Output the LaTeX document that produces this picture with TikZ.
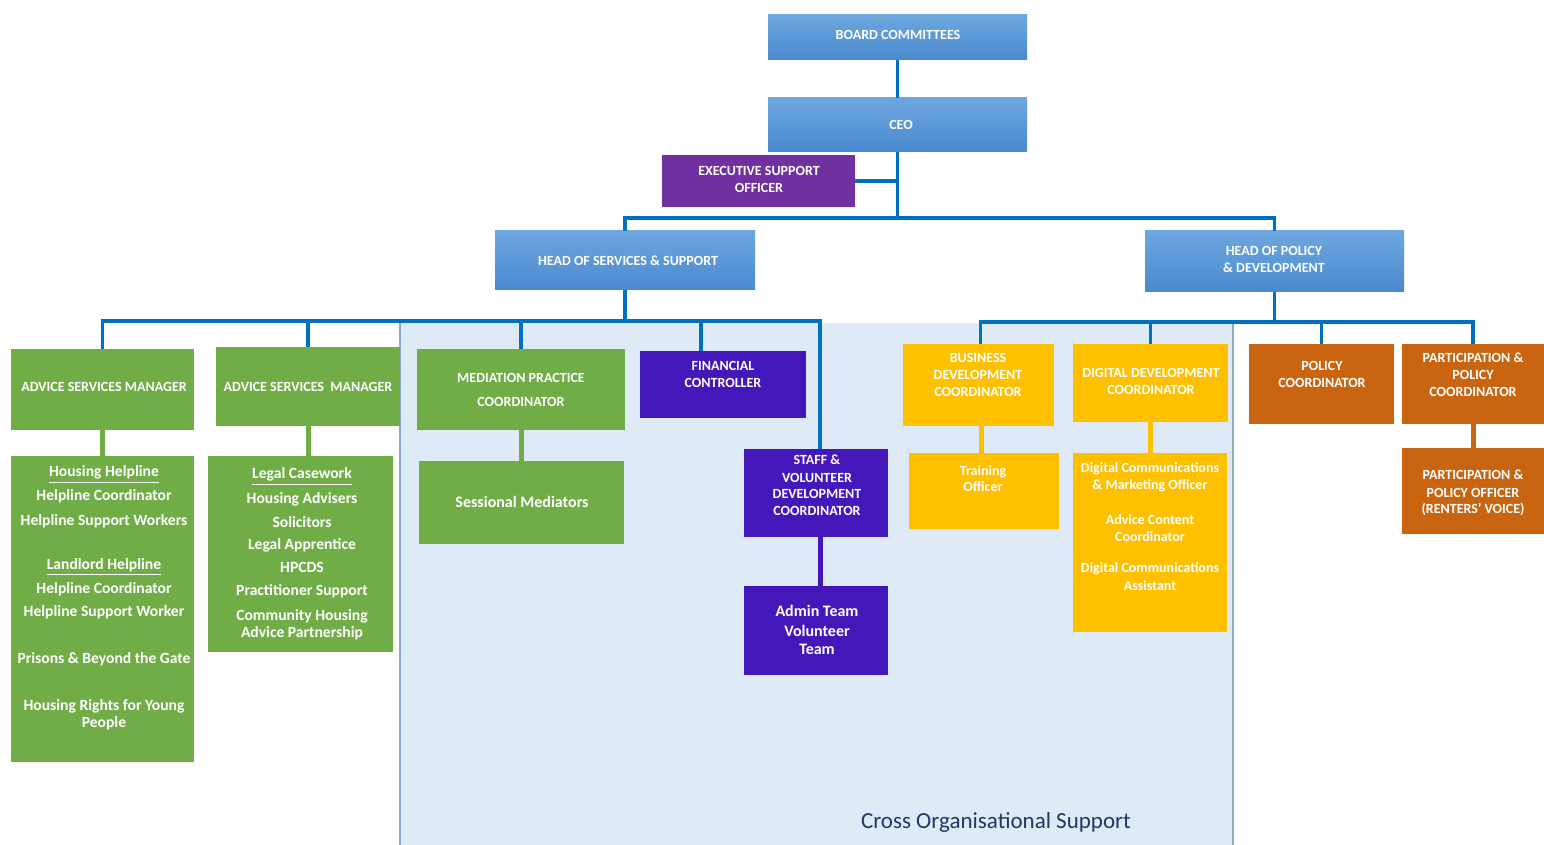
\documentclass[tikz,border=0pt]{standalone}
\usepackage{fontspec}
\setmainfont{Carlito}
\usetikzlibrary{calc}
\definecolor{lineblue}{HTML}{0070C0}
\definecolor{bluetop}{HTML}{6DA7DF}
\definecolor{bluebot}{HTML}{4A89CF}
\definecolor{orggreen}{HTML}{70AD47}
\definecolor{execpurple}{HTML}{7030A0}
\definecolor{indigo}{HTML}{4317BA}
\definecolor{orgyellow}{HTML}{FFC000}
\definecolor{orgorange}{HTML}{C96510}
\definecolor{regionfill}{HTML}{DEEAF6}
\definecolor{regionedge}{HTML}{8FAAC8}
\definecolor{navytext}{HTML}{1F3864}
\newcommand\obox[6]{\node[#2, minimum width={(#5-#3)*0.5pt}, minimum height={(#6-#4)*0.5pt}] (#1) at ({(#3+#5)/2},{(#4+#6)/2}) {};}
\tikzset{
  boxbase/.style={inner sep=0pt, outer sep=0pt, draw=none},
  bluebox/.style={boxbase, top color=bluetop, bottom color=bluebot},
  greenbox/.style={boxbase, fill=orggreen},
  execbox/.style={boxbase, fill=execpurple},
  indigobox/.style={boxbase, fill=indigo},
  yellowbox/.style={boxbase, fill=orgyellow},
  orangebox/.style={boxbase, fill=orgorange},
  regionbox/.style={boxbase, fill=regionfill},
  captxt/.style={text=white, font=\bfseries\fontsize{7}{8.5}\selectfont, inner sep=0pt, text height=5pt, text depth=0pt},
  lowtxt/.style={text=white, font=\bfseries\fontsize{7.8}{9}\selectfont, inner sep=0pt, text height=5pt, text depth=0pt},
  bigtxt/.style={text=white, font=\bfseries\fontsize{8}{9.5}\selectfont, inner sep=0pt, text height=5pt, text depth=0pt},
  smalltxt/.style={text=white, font=\bfseries\fontsize{7}{8.5}\selectfont, inner sep=0pt, text height=5pt, text depth=0pt},
  conn/.style={draw=lineblue, line width=1.75pt},
  gconn/.style={draw=orggreen, line width=2.5pt},
  iconn/.style={draw=indigo, line width=2.5pt},
  yconn/.style={draw=orgyellow, line width=2.5pt},
  oconn/.style={draw=orgorange, line width=2.5pt},
}
\begin{document}
\begin{tikzpicture}[x=0.5pt,y=-0.5pt]
\useasboundingbox (0,0) rectangle (1544,845);
% background region
\obox{region}{regionbox}{400}{323}{1233}{845}
\draw[regionedge, line width=0.9pt] (region.north west) -- (region.south west);
\draw[regionedge, line width=0.9pt] (region.north east) -- (region.south east);
% boxes
\obox{board}{bluebox}{768}{15}{1027}{60}
\obox{ceo}{bluebox}{768}{98}{1027}{152}
\obox{exec}{execbox}{662}{155}{855}{207}
\obox{hos}{bluebox}{495}{231}{755}{290}
\obox{hop}{bluebox}{1145}{231}{1404}{292}
\obox{asma}{greenbox}{11}{349}{194}{430}
\obox{asmb}{greenbox}{216}{347}{400}{426}
\obox{hh}{greenbox}{11}{456}{194}{762}
\obox{lc}{greenbox}{208}{456}{393}{652}
\obox{med}{greenbox}{417}{349}{625}{430}
\obox{sess}{greenbox}{419}{461}{624}{544}
\obox{fin}{indigobox}{640}{351}{806}{418}
\obox{staff}{indigobox}{744}{449}{888}{537}
\obox{admin}{indigobox}{744}{586}{888}{675}
\obox{bdc}{yellowbox}{903}{344}{1054}{426}
\obox{train}{yellowbox}{909}{453}{1059}{529}
\obox{ddc}{yellowbox}{1073}{344}{1228}{422}
\obox{dc}{yellowbox}{1073}{453}{1227}{632}
\obox{pc}{orangebox}{1249}{344}{1394}{424}
\obox{ppc}{orangebox}{1402}{344}{1544}{424}
\obox{ppo}{orangebox}{1402}{448}{1544}{534}
% connectors, top
\coordinate (busT) at (898,218);
\coordinate (busL) at (626,321);
\coordinate (busR) at (1277,322);
\draw[conn] (board.south) -- (ceo.north);
\draw[conn] (ceo.south) -- (ceo.south |- busT);
\draw[conn] (exec.east) -- (exec.east -| ceo.south);
\draw[conn] (hos.north) |- (busT);
\draw[conn] (hop.north) |- (busT);
% left bus
\draw[conn] (hos.south) -- (hos.south |- busL);
\draw[conn] (asma.north) |- (busL);
\draw[conn] (asmb.north) |- (busL);
\draw[conn] (med.north) |- (busL);
\draw[conn] ([xshift=-11pt]fin.north) |- (busL);
\draw[conn] ([xshift=2pt]staff.north) |- (busL);
% right bus
\draw[conn] (hop.south) -- (hop.south |- busR);
\draw[conn] ([xshift=1pt]bdc.north) |- (busR);
\draw[conn] (ddc.north) |- (busR);
\draw[conn] (pc.north) |- (busR);
\draw[conn] (ppc.north) |- (busR);
% sub connectors
\draw[gconn] (asma.south) -- (hh.north);
\draw[gconn] (asmb.south) -- (asmb.south |- lc.north);
\draw[gconn] (med.south) -- (med.south |- sess.north);
\draw[iconn] ([xshift=2pt]staff.south) -- ([xshift=2pt]admin.north);
\draw[yconn] ([xshift=1.5pt]bdc.south) -- ([xshift=1.5pt]bdc.south |- train.north);
\draw[yconn] (ddc.south) -- (ddc.south |- dc.north);
\draw[oconn] (ppc.south) -- (ppo.north);
% texts
\node[captxt] (boardt) at (898,35) {BOARD COMMITTEES};
\node[captxt] (ceot) at (901,125) {CEO};
\foreach \t/\y [count=\i] in {EXECUTIVE SUPPORT/171, OFFICER/188}
  \node[captxt] (exect\i) at (759,\y) {\t};
\node[captxt] (host) at (628,261) {HEAD OF SERVICES \& SUPPORT};
\foreach \t/\y [count=\i] in {HEAD OF POLICY/251, {\& DEVELOPMENT}/268}
  \node[captxt] (hopt\i) at (1274,\y) {\t};
\node[captxt] (asmat) at (104,387) {ADVICE SERVICES MANAGER};
\node[captxt] (asmbt) at (308,387) {ADVICE SERVICES\ \ MANAGER};
\foreach \t/\y [count=\i] in {{\underline{Housing Helpline}}/472, Helpline Coordinator/496, Helpline Support Workers/520, {\underline{Landlord Helpline}}/564, Helpline Coordinator/588, Helpline Support Worker/612, {Prisons \& Beyond the Gate}/658, Housing Rights for Young/705, People/722}
  \node[lowtxt] (hht\i) at (104,\y) {\t};
\foreach \t/\y [count=\i] in {{\underline{Legal Casework}}/474, Housing Advisers/498, Solicitors/522, Legal Apprentice/545, HPCDS/568, Practitioner Support/591, Community Housing/615, Advice Partnership/632}
  \node[lowtxt] (lct\i) at (302,\y) {\t};
\foreach \t/\y [count=\i] in {MEDIATION PRACTICE/378, COORDINATOR/402}
  \node[captxt] (medt\i) at (521,\y) {\t};
\node[bigtxt] (sesst) at (522,503) {Sessional Mediators};
\foreach \t/\y [count=\i] in {FINANCIAL/366, CONTROLLER/383}
  \node[captxt] (fint\i) at (723,\y) {\t};
\foreach \t/\y [count=\i] in {{STAFF \&}/460, VOLUNTEER/477, DEVELOPMENT/494, COORDINATOR/511}
  \node[captxt] (stafft\i) at (817,\y) {\t};
\foreach \t/\y [count=\i] in {Admin Team/612, Volunteer/631, Team/649}
  \node[bigtxt] (admint\i) at (817,\y) {\t};
\foreach \t/\y [count=\i] in {BUSINESS/358, DEVELOPMENT/375, COORDINATOR/392}
  \node[captxt] (bdct\i) at (978,\y) {\t};
\foreach \t/\y [count=\i] in {Training/470, Officer/487}
  \node[smalltxt] (traint\i) at (983,\y) {\t};
\foreach \t/\y [count=\i] in {DIGITAL DEVELOPMENT/373, COORDINATOR/390}
  \node[captxt] (ddct\i) at (1151,\y) {\t};
\foreach \t/\y [count=\i] in {Digital Communications/468, {\& Marketing Officer}/485, Advice Content/519, Coordinator/536, Digital Communications/568, Assistant/585}
  \node[smalltxt] (dct\i) at (1150,\y) {\t};
\foreach \t/\y [count=\i] in {POLICY/366, COORDINATOR/383}
  \node[captxt] (pct\i) at (1322,\y) {\t};
\foreach \t/\y [count=\i] in {{PARTICIPATION \&}/358, POLICY/375, COORDINATOR/392}
  \node[captxt] (ppct\i) at (1473,\y) {\t};
\foreach \t/\y [count=\i] in {{PARTICIPATION \&}/475, POLICY OFFICER/492, (RENTERS' VOICE)/509}
  \node[captxt] (ppot\i) at (1473,\y) {\t};
\node[text=navytext, font=\fontsize{11.5}{13}\selectfont, inner sep=0pt, text height=6pt, text depth=0pt] (crosst) at (996,822) {Cross Organisational Support};
\end{tikzpicture}
\end{document}
